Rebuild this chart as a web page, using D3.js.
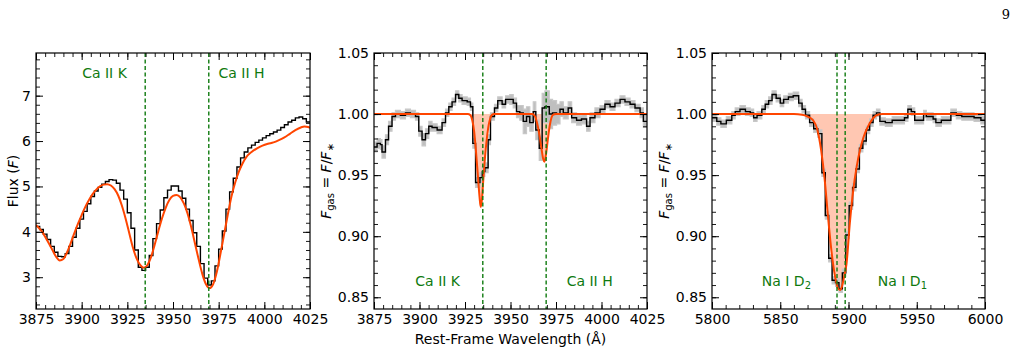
<!DOCTYPE html>
<html>
<head>
<meta charset="utf-8">
<script src="https://cdn.jsdelivr.net/npm/d3@7"></script>
<style>
  body { margin: 0; background: #fff; }
  svg { display: block; font-family: "DejaVu Sans", sans-serif; }
</style>
</head>
<body>
<svg id="chart" width="1022" height="353"></svg>
<script>
// ---- data ----
// panel 1: observed flux (step) and stellar model, Ca II region
const caFluxEdges = [3875,3877,3879,3881,3883,3885,3887,3889,3891,3893,3895,3897,3899,3901,3903,3905,3907,3909,3911,3913,
  3915,3917,3919,3921,3923,3925,3927,3929,3931,3933,3935,3937,3939,3941,3943,3945,3947,3949,3951,3953,
  3955,3957,3959,3961,3963,3965,3967,3969,3971,3973,3975,3977,3979,3981,3983,3985,3987,3989,3991,3993,
  3995,3997,3999,4001,4003,4005,4007,4009,4011,4013,4015,4017,4019,4021,4023,4025];
const caFlux = [4.12,4.05,3.95,3.83,3.68,3.55,3.46,3.45,3.52,3.68,3.88,4.08,4.28,4.45,4.62,4.78,4.90,4.98,5.05,5.11,
  5.15,5.14,5.07,4.92,4.72,4.42,4.08,3.60,3.22,3.15,3.22,3.48,3.85,4.18,4.48,4.75,4.92,5.01,5.01,4.90,
  4.74,4.50,4.25,3.98,3.68,3.30,2.98,2.83,2.92,3.25,3.62,4.02,4.50,4.88,5.18,5.43,5.63,5.76,5.85,5.91,
  5.97,6.02,6.07,6.12,6.16,6.20,6.24,6.30,6.36,6.42,6.46,6.51,6.53,6.49,6.42];
const caModelWave = [3875,3878,3881,3884,3886,3888,3890,3892,3894,3896,3898,3900,3902,3904,3906,3908,3910,3912,3914,3916,
  3918,3920,3922,3924,3926,3928,3930,3932,3934,3936,3938,3940,3942,3944,3946,3948,3950,3952,3954,3956,
  3958,3960,3962,3964,3966,3968,3970,3972,3974,3976,3978,3980,3982,3984,3986,3988,3990,3993,3996,3999,
  4002,4005,4008,4011,4014,4017,4020,4022,4024,4025];
const caModel = [4.15,4.02,3.82,3.60,3.45,3.37,3.40,3.55,3.75,3.97,4.18,4.37,4.55,4.70,4.83,4.93,5.00,5.04,5.05,5.02,
  4.94,4.80,4.58,4.30,3.98,3.66,3.42,3.27,3.21,3.27,3.45,3.72,4.02,4.30,4.53,4.70,4.79,4.81,4.76,4.62,
  4.40,4.10,3.75,3.40,3.08,2.85,2.76,2.85,3.12,3.52,3.95,4.38,4.78,5.08,5.32,5.50,5.64,5.76,5.84,5.90,
  5.94,5.97,6.02,6.08,6.16,6.24,6.30,6.32,6.31,6.29];

// panel 2: normalised gas spectrum, Ca II
const caGasEdges = [3875,3876.7,3878.5,3879.4,3881.3,3883,3884.9,3886.8,3889.5,3892.3,3895,3897.8,3899.6,3901.4,3903.3,
  3905.1,3906.9,3909.7,3912.4,3914.3,3916.1,3917.9,3919.8,3921.6,3923.4,3926.2,3928,3929.3,3930.8,3933.2,3934.5,
  3935.9,3937.7,3939,3941.2,3943,3945.4,3947.3,3949.6,3951.5,3953.3,3955.1,3957,3958.8,3960.6,3962.5,3963.9,
  3965.8,3967.4,3968.9,3971.3,3973.1,3975.3,3977.2,3979,3981.7,3983.6,3986.3,3989,3991.8,3993.7,3996.4,3999.2,
  4001.9,4004.7,4007.4,4010.2,4012.9,4015.7,4018.4,4021.2,4023,4025];
const caGas = [0.973,0.976,0.975,0.969,0.979,0.990,0.998,1.000,0.999,1.001,1.000,0.998,0.986,0.979,0.984,
  0.990,0.989,0.987,0.993,1.001,1.006,1.010,1.016,1.013,1.011,1.010,1.006,0.976,0.944,0.948,0.953,
  0.956,0.979,0.998,1.005,1.011,1.008,1.012,1.012,1.009,1.002,1.001,0.994,0.998,0.993,1.002,0.987,
  0.972,1.005,1.006,1.000,1.001,1.000,1.004,1.001,1.005,0.997,0.995,0.996,0.990,0.997,1.001,1.004,
  1.008,1.006,1.009,1.012,1.010,1.008,1.005,1.001,0.994];
const caGasErr = [0.004,0.004,0.004,0.005,0.004,0.004,0.003,0.003,0.003,0.003,0.003,0.003,
  0.004,0.005,0.004,0.004,0.003,0.003,0.003,0.003,0.003,0.003,0.003,0.003,0.003,0.003,0.003,
  0.004,0.004,0.004,0.004,0.004,0.004,0.003,0.003,0.003,0.003,0.003,0.004,
  0.004,0.005,0.006,0.010,0.008,0.007,0.008,0.008,0.010,0.012,0.013,0.012,0.010,0.008,0.006,0.005,0.005,
  0.004,0.004,0.004,0.004,0.004,0.004,0.003,0.003,0.003,0.003,0.003,0.003,0.003,0.003,0.004,0.005];
const caGasModelWave = [3875,3926.5,3928,3929,3930,3931,3932,3933,3933.6,3934.3,3935,3936,3937,3938,3939,3940,3941,
  3962,3963.5,3965,3966,3967,3968,3968.7,3969.5,3970.5,3971.5,3972.5,3973.5,3975,4025];
const caGasModel = [1.0,1.0,0.999,0.995,0.986,0.970,0.951,0.932,0.924,0.930,0.945,0.965,0.980,0.991,0.997,0.9995,1.0,
  1.0,0.998,0.990,0.982,0.972,0.963,0.961,0.967,0.979,0.990,0.997,0.9995,1.0,1.0];

// panel 3: normalised gas spectrum, Na I D
const naGasEdges = [5800,5803.5,5806.5,5810.5,5814.5,5817,5820.5,5824.5,5828,5830.5,5833,5836.5,5839,5841.5,5844,5847,
  5850,5852.5,5856,5859.5,5863.5,5866,5868.5,5871.5,5874.5,5877.5,5880.5,5883,5885.5,5888,5890.5,5893,5895.5,
  5898,5900.5,5903,5905.5,5908,5910.5,5913,5915.5,5918,5920.5,5923,5927,5932,5936,5941,5943.5,5946,5948.5,
  5951,5955,5957,5962,5964,5968,5975,5979,5983,5988,5992,5997,6000];
const naGas = [0.997,0.994,0.992,0.995,0.999,1.002,1.004,1.002,1.001,0.997,0.999,1.004,1.008,1.011,1.016,1.013,
  1.009,1.012,1.014,1.015,1.009,1.004,0.999,0.993,0.988,0.984,0.952,0.917,0.882,0.864,0.862,0.857,0.870,
  0.901,0.925,0.940,0.955,0.972,0.978,0.987,0.993,0.999,1.001,0.994,0.993,0.995,0.995,0.997,1.004,1.002,0.995,
  0.995,1.000,0.998,0.996,0.993,0.995,1.001,0.999,0.998,0.998,0.997,0.995];
const naGasErr = [0.003,0.003,0.003,0.003,0.003,0.003,0.003,0.003,0.003,0.003,0.003,0.003,0.003,0.003,0.003,0.003,
  0.003,0.003,0.003,0.003,0.003,0.003,0.003,0.003,0.003,0.003,0.003,0.003,0.003,0.003,0.003,0.003,0.003,
  0.003,0.003,0.003,0.003,0.003,0.003,0.003,0.003,0.003,0.003,0.003,0.003,0.003,0.003,0.003,0.003,0.003,0.003,
  0.003,0.003,0.003,0.003,0.003,0.003,0.003,0.003,0.003,0.003,0.003,0.003];
const naGasModelWave = [5800,5860,5866,5870,5874,5877,5880,5882.5,5885,5887.5,5890,5892.5,5894,5895.5,5897,5898.5,
  5901,5903.5,5906,5908.5,5911,5913.5,5917,5920.5,5925,6000];
const naGasModel = [1.0,1.0,0.9995,0.998,0.995,0.988,0.970,0.947,0.916,0.888,0.868,0.857,0.856,0.860,0.868,0.877,
  0.911,0.938,0.957,0.971,0.981,0.988,0.995,0.999,1.0,1.0];

// line positions and labels
const caLines = [3934.78, 3969.59];
const naLines = [5891.58, 5897.56];
const caTicks = [3875, 3900, 3925, 3950, 3975, 4000, 4025];
const naTicks = [5800, 5850, 5900, 5950, 6000];
const fluxTicks = [3, 4, 5, 6, 7];
const gasTicks = [0.85, 0.90, 0.95, 1.00, 1.05];

const svg = d3.select('#chart');
const ORANGE = '#ff4500';
const GREEN = '#0f7a0f';
const plotTop = 53, plotBottom = 309;

function pts(xs, ys) {
  return xs.map((x, i) => [x, ys[Math.min(i, ys.length - 1)]]);
}

function drawPanel(p) {
  const x = d3.scaleLinear().domain(p.xDomain).range([p.left, p.right]);
  const y = d3.scaleLinear().domain(p.yDomain).range([plotBottom, plotTop]);
  const g = svg.append('g');

  const clipId = 'clip' + p.id;
  svg.append('clipPath').attr('id', clipId)
    .append('rect').attr('x', p.left).attr('y', plotTop)
    .attr('width', p.right - p.left).attr('height', plotBottom - plotTop);
  const plot = g.append('g').attr('clip-path', `url(#${clipId})`);

  if (p.fill) {
    const area = d3.area().curve(d3.curveMonotoneX)
      .x(d => x(d[0])).y0(y(1)).y1(d => y(d[1]));
    plot.append('path').datum(pts(p.modelWave, p.model))
      .attr('d', area).attr('fill', ORANGE).attr('fill-opacity', 0.3);
  }

  if (p.err) {
    const band = d3.area().curve(d3.curveStepAfter)
      .x(d => x(d[0])).y0(d => y(d[1] - d[2])).y1(d => y(d[1] + d[2]));
    const bd = p.edges.map((e, i) => {
      const k = Math.min(i, p.flux.length - 1);
      return [e, p.flux[k], p.err[k]];
    });
    plot.append('path').datum(bd).attr('d', band)
      .attr('fill', '#bfbfbf').attr('stroke', '#c8c8c8').attr('stroke-width', 1.2);
  }

  const step = d3.line().curve(d3.curveStepAfter).x(d => x(d[0])).y(d => y(d[1]));
  plot.append('path').datum(pts(p.edges, p.flux))
    .attr('d', step).attr('fill', 'none').attr('stroke', '#000').attr('stroke-width', 1.4);

  const smooth = d3.line().curve(d3.curveMonotoneX).x(d => x(d[0])).y(d => y(d[1]));
  plot.append('path').datum(pts(p.modelWave, p.model))
    .attr('d', smooth).attr('fill', 'none').attr('stroke', ORANGE).attr('stroke-width', 2);

  plot.selectAll('line.feat').data(p.lines).enter().append('line')
    .attr('x1', d => x(d)).attr('x2', d => x(d))
    .attr('y1', plotTop).attr('y2', plotBottom)
    .attr('stroke', GREEN).attr('stroke-width', 1.4).attr('stroke-dasharray', '4,2.5');

  // axes: ticks inward on all four sides
  const minorX = d3.range(p.xDomain[0], p.xDomain[1] + 1e-6, p.xMinor);
  const minorY = d3.range(Math.ceil(p.yDomain[0] / p.yMinor - 1e-6) * p.yMinor, p.yDomain[1] + 1e-9, p.yMinor);
  const axes = [
    [d3.axisBottom(x).tickValues(p.xTicks).tickFormat(d3.format('d')), `translate(0,${plotBottom})`, true],
    [d3.axisTop(x).tickValues(p.xTicks).tickFormat(''), `translate(0,${plotTop})`, false],
    [d3.axisLeft(y).tickValues(p.yTicks).tickFormat(p.yFormat), `translate(${p.left},0)`, true],
    [d3.axisRight(y).tickValues(p.yTicks).tickFormat(''), `translate(${p.right},0)`, false]
  ];
  axes.forEach(([ax, tr, lab]) => {
    const a = g.append('g').attr('transform', tr)
      .call(ax.tickSizeInner(-7).tickSizeOuter(0).tickPadding(lab ? 5 : 0));
    a.select('.domain').remove();
    a.selectAll('text').attr('font-size', 14).attr('fill', '#000')
      .attr('font-family', '"DejaVu Sans", sans-serif');
    a.selectAll('line').attr('stroke', '#000').attr('stroke-width', 1);
  });
  const minors = [
    [d3.axisBottom(x).tickValues(minorX), `translate(0,${plotBottom})`],
    [d3.axisTop(x).tickValues(minorX), `translate(0,${plotTop})`],
    [d3.axisLeft(y).tickValues(minorY), `translate(${p.left},0)`],
    [d3.axisRight(y).tickValues(minorY), `translate(${p.right},0)`]
  ];
  minors.forEach(([ax, tr]) => {
    const a = g.append('g').attr('transform', tr)
      .call(ax.tickSizeInner(-4).tickSizeOuter(0).tickFormat(''));
    a.select('.domain').remove();
    a.selectAll('line').attr('stroke', '#000').attr('stroke-width', 0.9);
  });

  g.append('rect').attr('x', p.left).attr('y', plotTop)
    .attr('width', p.right - p.left).attr('height', plotBottom - plotTop)
    .attr('fill', 'none').attr('stroke', '#000').attr('stroke-width', 1.2);

  p.labels.forEach(l => {
    const t = g.append('text').attr('x', x(l.at)).attr('y', l.y)
      .attr('text-anchor', 'middle').attr('font-size', 14).attr('fill', GREEN);
    t.append('tspan').text(l.text);
    if (l.sub) t.append('tspan').attr('baseline-shift', '-3').attr('font-size', 10).text(l.sub);
  });
  return { x, y };
}

drawPanel({
  id: 1, left: 36, right: 310, xDomain: [3875, 4025], yDomain: [2.3, 7.94],
  xTicks: caTicks, yTicks: fluxTicks, xMinor: 5, yMinor: 0.2, yFormat: d3.format('d'),
  edges: caFluxEdges, flux: caFlux, modelWave: caModelWave, model: caModel, fill: false,
  lines: caLines,
  labels: [{ text: 'Ca II K', at: 3912.5, y: 78 }, { text: 'Ca II H', at: 3987.5, y: 78 }]
});
drawPanel({
  id: 2, left: 374, right: 647, xDomain: [3875, 4025], yDomain: [0.8404, 1.05],
  xTicks: caTicks, yTicks: gasTicks, xMinor: 5, yMinor: 0.01, yFormat: d3.format('.2f'),
  edges: caGasEdges, flux: caGas, err: caGasErr, modelWave: caGasModelWave, model: caGasModel, fill: true,
  lines: caLines,
  labels: [{ text: 'Ca II K', at: 3910, y: 286 }, { text: 'Ca II H', at: 3993.5, y: 286 }]
});
drawPanel({
  id: 3, left: 712, right: 985, xDomain: [5800, 6000], yDomain: [0.8404, 1.05],
  xTicks: naTicks, yTicks: gasTicks, xMinor: 10, yMinor: 0.01, yFormat: d3.format('.2f'),
  edges: naGasEdges, flux: naGas, err: naGasErr, modelWave: naGasModelWave, model: naGasModel, fill: true,
  lines: naLines,
  labels: [{ text: 'Na I D', sub: '2', at: 5854.5, y: 286 }, { text: 'Na I D', sub: '1', at: 5939.5, y: 286 }]
});

// axis titles
const fluxLab = svg.append('text').attr('transform', 'translate(18,181) rotate(-90)')
  .attr('text-anchor', 'middle').attr('font-size', 14);
fluxLab.append('tspan').text('Flux (');
fluxLab.append('tspan').attr('font-style', 'italic').text('F');
fluxLab.append('tspan').text(')');

[331, 669].forEach(px => {
  const t = svg.append('text').attr('transform', `translate(${px},181) rotate(-90)`)
    .attr('text-anchor', 'middle').attr('font-size', 14);
  t.append('tspan').attr('font-style', 'italic').text('F');
  t.append('tspan').attr('baseline-shift', '-3').attr('font-size', 10).text('gas');
  t.append('tspan').text(' = ');
  t.append('tspan').attr('font-style', 'italic').text('F');
  t.append('tspan').text('/');
  t.append('tspan').attr('font-style', 'italic').text('F');
  t.append('tspan').attr('baseline-shift', '-3').attr('font-size', 10).text('\u2217');
});

svg.append('text').attr('x', 510.5).attr('y', 344).attr('text-anchor', 'middle')
  .attr('font-size', 14).text('Rest-Frame Wavelength (\u00c5)');

svg.append('text').attr('x', 1010).attr('y', 19).attr('text-anchor', 'end')
  .attr('font-family', '"DejaVu Serif", serif').attr('font-size', 13).text('9');
</script>
</body>
</html>
